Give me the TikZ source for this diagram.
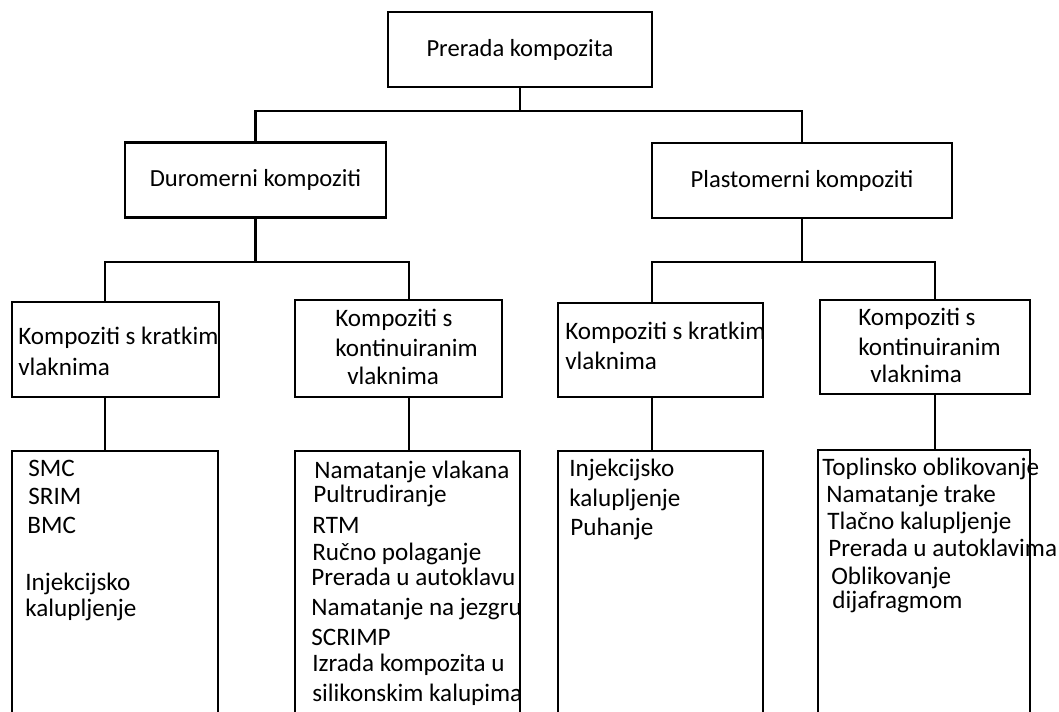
\documentclass[tikz,border=0pt]{standalone}
\usepackage{fontspec}
\setmainfont{Carlito}

\begin{document}
\begin{tikzpicture}[x=0.02cm, y=-0.02cm,
    box/.style={draw, line width=1.6pt, inner sep=0pt, font=\fontsize{14}{16}\selectfont},
    lbl/.style={anchor=base west, inner sep=0pt, font=\fontsize{14.3}{16}\selectfont},
    link/.style={line width=1.6pt}]
  \useasboundingbox (0,0) rectangle (1059,711);
  \clip (0,0) rectangle (1059,711);

  % Top box
  \node[box, minimum width=5.28cm, minimum height=1.5cm] (prerada) at (520,49.5) {Prerada kompozita};

  % Second level
  \node[box, minimum width=5.22cm, minimum height=1.5cm] (duro) at (255.5,180) {Duromerni kompoziti};
  \node[box, minimum width=6.0cm, minimum height=1.5cm] (plasto) at (802,180.5) {Plastomerni kompoziti};

  % Third level
  \node[box, minimum width=4.14cm, minimum height=1.90cm] (dkratki) at (115.5,349.5) {};
  \node[box, minimum width=4.14cm, minimum height=1.94cm] (dkont) at (398.5,348.5) {};
  \node[box, minimum width=4.10cm, minimum height=1.88cm] (pkratki) at (660.5,350) {};
  \node[box, minimum width=4.20cm, minimum height=1.88cm] (pkont) at (925,347) {};

  % Fourth level (runs out at the bottom)
  \node[box, minimum width=4.12cm, minimum height=6.38cm] (dkratkiP) at (115,610.5) {};
  \node[box, minimum width=4.50cm, minimum height=6.38cm] (dkontP) at (407.5,610.5) {};
  \node[box, minimum width=4.10cm, minimum height=6.38cm] (pkratkiP) at (660.5,610.5) {};
  \node[box, minimum width=4.24cm, minimum height=6.40cm] (pkontP) at (924,610) {};

  % bus lines
  \coordinate (busA) at (0,111);
  \coordinate (busB) at (0,262);
  \coordinate (xa) at (105,0);
  \coordinate (xb) at (409,0);
  \coordinate (xc) at (652,0);
  \coordinate (xd) at (935,0);

  \draw[link] (prerada.south) -- (prerada.south |- busA);
  \draw[link] (duro.north) |- (plasto.north |- busA) -- (plasto.north);

  \draw[link] (duro.south) -- (duro.south |- busB);
  \draw[link] (dkratki.north -| xa) |- (busB -| xb) -- (dkont.north -| xb);
  \draw[link] (plasto.south) -- (plasto.south |- busB);
  \draw[link] (pkratki.north -| xc) |- (busB -| xd) -- (pkont.north -| xd);

  \draw[link] (dkratki.south -| xa) -- (dkratkiP.north -| xa);
  \draw[link] (dkont.south -| xb) -- (dkontP.north -| xb);
  \draw[link] (pkratki.south -| xc) -- (pkratkiP.north -| xc);
  \draw[link] (pkont.south -| xd) -- (pkontP.north -| xd);

  % labels, third level
  \node[lbl] (a1) at (18,344) {Kompoziti s kratkim};
  \node[lbl] (a2) at (18,375) {vlaknima};
  \node[lbl] (b1) at (335,326) {Kompoziti s};
  \node[lbl] (b2) at (335,356) {kontinuiranim};
  \node[lbl] (b3) at (347,384) {vlaknima};
  \node[lbl] (c1) at (565,339) {Kompoziti s kratkim};
  \node[lbl] (c2) at (565,369) {vlaknima};
  \node[lbl] (d1) at (858,325) {Kompoziti s};
  \node[lbl] (d2) at (858,355) {kontinuiranim};
  \node[lbl] (d3) at (870,382) {vlaknima};

  % labels, fourth level
  \node[lbl] (e1) at (28,476) {SMC};
  \node[lbl] (e2) at (28,504) {SRIM};
  \node[lbl] (e3) at (27,533) {BMC};
  \node[lbl] (e4) at (25,590) {Injekcijsko};
  \node[lbl] (e5) at (25,616) {kalupljenje};

  \node[lbl] (f1) at (314,478) {Namatanje vlakana};
  \node[lbl] (f2) at (313,502) {Pultrudiranje};
  \node[lbl] (f3) at (312,533) {RTM};
  \node[lbl] (f4) at (312,560) {Ručno polaganje};
  \node[lbl] (f5) at (311,585) {Prerada u autoklavu};
  \node[lbl] (f6) at (311,615) {Namatanje na jezgru};
  \node[lbl] (f7) at (311,645) {SCRIMP};
  \node[lbl] (f8) at (312,671) {Izrada kompozita u};
  \node[lbl] (f9) at (312,701) {silikonskim kalupima};

  \node[lbl] (g1) at (569,476) {Injekcijsko};
  \node[lbl] (g2) at (569,506) {kalupljenje};
  \node[lbl] (g3) at (570,535) {Puhanje};

  \node[lbl] (h1) at (822,475) {Toplinsko oblikovanje};
  \node[lbl] (h2) at (826,502) {Namatanje trake};
  \node[lbl] (h3) at (827,529) {Tlačno kalupljenje};
  \node[lbl] (h4) at (828,556) {Prerada u autoklavima};
  \node[lbl] (h5) at (831,584) {Oblikovanje};
  \node[lbl] (h6) at (832,608) {dijafragmom};
\end{tikzpicture}
\end{document}
